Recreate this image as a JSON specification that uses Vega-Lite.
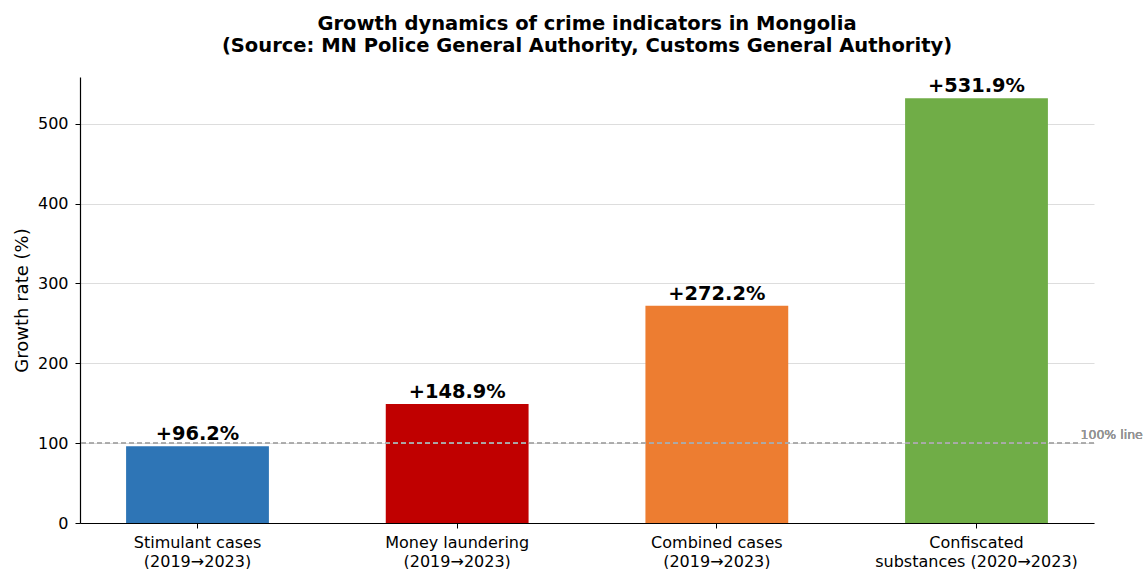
{
  "$schema": "https://vega.github.io/schema/vega-lite/v6.json",
  "width": 1014,
  "height": 446,
  "autosize": {"type": "none"},
  "padding": {"left": 80, "top": 77, "right": 51, "bottom": 46},
  "background": "white",
  "title": {
    "text": ["Growth dynamics of crime indicators in Mongolia", "(Source: MN Police General Authority, Customs General Authority)"],
    "font": "DejaVu Sans",
    "fontSize": 19.5,
    "fontWeight": "bold",
    "color": "black",
    "anchor": "middle",
    "lineHeight": 22,
    "offset": 20
  },
  "config": {
    "font": "DejaVu Sans",
    "view": {"stroke": null},
    "axis": {
      "labelFont": "DejaVu Sans",
      "titleFont": "DejaVu Sans",
      "labelColor": "black",
      "titleColor": "black",
      "domainColor": "black",
      "tickColor": "black"
    }
  },
  "data": {
    "values": [
      {"category": "Stimulant cases|(2019→2023)", "value": 96.2, "label": "+96.2%", "color": "#2E75B6"},
      {"category": "Money laundering|(2019→2023)", "value": 148.9, "label": "+148.9%", "color": "#C00000"},
      {"category": "Combined cases|(2019→2023)", "value": 272.2, "label": "+272.2%", "color": "#ED7D31"},
      {"category": "Confiscated|substances (2020→2023)", "value": 531.9, "label": "+531.9%", "color": "#70AD47"}
    ]
  },
  "layer": [
    {
      "mark": {"type": "bar"},
      "encoding": {
        "x": {
          "field": "category",
          "type": "nominal",
          "sort": null,
          "scale": {"paddingInner": 0.45, "paddingOuter": 0.1775},
          "axis": {
            "title": null,
            "labelAngle": 0,
            "labelExpr": "split(datum.label, '|')",
            "labelFontSize": 16,
            "labelLineHeight": 19,
            "labelLimit": 400,
            "labelPadding": 6,
            "tickSize": 5,
            "domainWidth": 1.2,
            "grid": false
          }
        },
        "y": {
          "field": "value",
          "type": "quantitative",
          "scale": {"domain": [0, 558.5], "nice": false},
          "axis": {
            "title": "Growth rate (%)",
            "titleFontSize": 18,
            "titleFontWeight": "normal",
            "titlePadding": 6,
            "values": [0, 100, 200, 300, 400, 500],
            "labelFontSize": 16,
            "labelPadding": 7,
            "tickSize": 5,
            "domainWidth": 1.2,
            "grid": true,
            "gridColor": "#dddddd",
            "gridWidth": 1
          }
        },
        "color": {"field": "color", "type": "nominal", "scale": null}
      }
    },
    {
      "mark": {"type": "rule", "color": "#aaaaaa", "strokeDash": [5, 3], "strokeWidth": 1.2},
      "encoding": {"y": {"datum": 100}}
    },
    {
      "mark": {"type": "text", "fontSize": 19.4, "fontWeight": "bold", "baseline": "bottom", "dy": -2, "color": "black"},
      "encoding": {
        "x": {"field": "category", "type": "nominal", "sort": null},
        "y": {"field": "value", "type": "quantitative"},
        "text": {"field": "label"}
      }
    },
    {
      "mark": {"type": "text", "fontSize": 12.5, "fontWeight": "normal", "color": "#959595", "align": "left", "baseline": "bottom", "dx": 104, "dy": -1},
      "encoding": {
        "x": {"datum": "Confiscated|substances (2020→2023)"},
        "y": {"datum": 100},
        "text": {"value": "100% line"}
      }
    }
  ]
}
